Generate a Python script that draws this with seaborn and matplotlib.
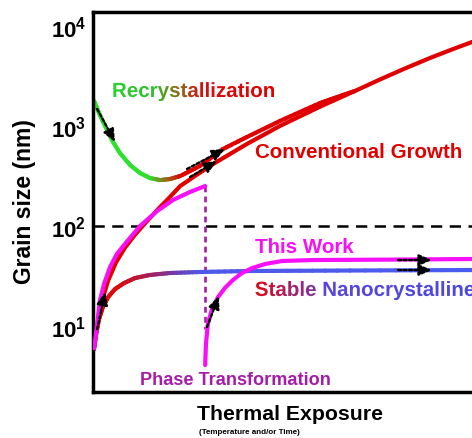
"""
Grain size vs. thermal exposure schematic (log scale).
Curves read off the reference picture, drawn with seaborn / matplotlib.
"""

import numpy as np
import matplotlib
matplotlib.use('Agg')
import matplotlib.pyplot as plt
import matplotlib.transforms as mtransforms
from matplotlib.collections import LineCollection
from matplotlib.colors import LinearSegmentedColormap
from matplotlib.font_manager import FontProperties
from matplotlib.patches import PathPatch
from matplotlib.textpath import TextPath
from matplotlib.ticker import NullLocator
import seaborn as sns

# x: thermal exposure (arbitrary units 0-100), y: grain size (nm)
recryst_x = [0.3, 1.8, 3.7, 5.3, 7.1, 9.8, 12.4, 15.0, 17.7, 20.3, 23.0, 28.2, 34.3, 40.6, 49.3, 59.9, 65.2, 69.1]
recryst_y = [1780, 1290, 912, 692, 537, 407, 339, 302, 288, 295, 316, 398, 589, 776, 1122, 1698, 1995, 2239]

conv_x = [0.3, 1.3, 2.4, 4.0, 6.1, 8.4, 11.1, 13.7, 17.2, 20.3, 23.0, 26.9, 31.7, 40.6, 49.3, 59.9,
		  69.1, 75.7, 82.3, 88.9, 94.7, 100]
conv_y = [6.0, 11.0, 18.0, 28.5, 43.5, 60.5, 82, 106, 148, 195, 251, 316, 417, 661, 1000, 1560,
		  2239, 2917, 3758, 4786, 5821, 6918]

stable_x = [0.2, 0.8, 1.6, 2.6, 4.0, 5.8, 8.2, 11.1, 15.0, 20.3, 28.2, 41.4, 67.8, 100]
stable_y = [5.8, 8.3, 11.7, 15.5, 19.5, 23.4, 26.9, 30.2, 32.4, 33.9, 34.7, 35.5, 35.9, 36.3]

work1_x = [0.3, 1.1, 1.8, 2.9, 4.5, 6.3, 8.4, 12.4, 16.9, 21.1, 25.6, 29.6]
work1_y = [6.0, 10.5, 17.8, 26.3, 38.9, 52.5, 66, 100, 141, 182, 219, 251]

work2_x = [29.6, 29.8, 30.3, 31.4, 33.0, 34.8, 36.9, 39.3, 42.0, 45.4, 49.9, 58.0, 81.0, 100]
work2_y = [4.07, 6.6, 10.5, 14.8, 19.5, 24.0, 28.8, 33.9, 38.0, 41.7, 44.7, 45.7, 46.2, 46.8]

phase_bottom = 9.3
threshold = 100

# dotted arrows: (x0, y0, x1, y1)
arrows = [(1.1, 1479, 5.8, 692),
          (24.8, 372, 34.8, 589),
          (25.6, 309, 32.7, 447),
          (1.1, 9.3, 3.2, 21.9),
          (30.1, 9.8, 33.2, 20.0),
          (80.5, 45.7, 89.4, 45.7),
          (80.5, 36.3, 89.4, 36.3)]

ytick_vals = [10, 100, 1000, 10000]
ytick_labels = [r'$\mathbf{10^{1}}$', r'$\mathbf{10^{2}}$', r'$\mathbf{10^{3}}$', r'$\mathbf{10^{4}}$']

RED = '#e00000'
MAGENTA = '#f70ff7'
PURPLE = '#a41ca8'

recryst_stops = [(0, '#2fe02f'), (0.15, '#2fe02f'), (0.195, '#9a6a18'), (0.235, RED), (1, RED)]
stable_stops = [(0, '#e00808'), (0.07, '#dc0a10'), (0.13, '#b81840'), (0.18, '#922a78'),
                (0.23, '#6a40b8'), (0.29, '#5058e8'), (1, '#4a5cf0')]
recryst_text_stops = [(0, '#2fd02f'), (0.25, '#30c030'), (0.40, '#8a7018'), (0.55, '#d41010'), (1, RED)]
stable_text_stops = [(0, '#dc0a1a'), (0.06, '#cc1030'), (0.28, '#7a35a6'), (0.31, '#5a45dc'), (1, '#4a48e0')]


def gradient_line(ax, xs, ys, stops, lw):
	cmap = LinearSegmentedColormap.from_list('grad', stops)
	segs, cols = [], []
	for xa, ya, xb, yb in zip(xs[:-1], ys[:-1], xs[1:], ys[1:]):
		# short pieces along each straight segment so the colour fades smoothly
		t = np.linspace(0, 1, 9)
		px = xa + (xb - xa) * t
		py = 10 ** (np.log10(ya) + (np.log10(yb) - np.log10(ya)) * t)
		for i in range(len(t) - 1):
			segs.append([(px[i], py[i]), (px[i + 1], py[i + 1])])
			cols.append(cmap((px[i] + px[i + 1]) / 200))
	lc = LineCollection(segs, colors=cols, linewidths=lw, capstyle='round', joinstyle='round')
	ax.add_collection(lc)


def gradient_text(ax, x, y, s, stops, size):
	fp = FontProperties(family='Liberation Sans', weight='bold')
	tp = TextPath((0, 0), s, size=size, prop=fp)
	bb = tp.get_extents()
	tr = mtransforms.Affine2D().scale(ax.figure.dpi / 72) + mtransforms.ScaledTranslation(x, y, ax.transData)
	patch = PathPatch(tp, transform=tr, facecolor='none', edgecolor='none')
	ax.add_patch(patch)
	cmap = LinearSegmentedColormap.from_list('tgrad', stops)
	im = ax.imshow(np.linspace(0, 1, 256)[None, :], cmap=cmap, extent=(bb.x0, bb.x1, bb.y0, bb.y1),
				   transform=tr, aspect='auto', interpolation='bilinear')
	im.set_clip_path(patch)


if __name__ == "__main__":

	sns.set_style('white')
	plt.rcParams['font.family'] = ['Liberation Sans', 'DejaVu Sans']
	plt.rcParams['font.weight'] = 'bold'
	plt.rcParams['mathtext.fontset'] = 'custom'
	plt.rcParams['mathtext.bf'] = 'Liberation Sans:bold'
	plt.rcParams['mathtext.rm'] = 'Liberation Sans:bold'
	#seaborn greys the text, the original is black
	for key in ['text.color', 'axes.labelcolor', 'xtick.color', 'ytick.color']:
		plt.rcParams[key] = 'black'

	fig = plt.figure(figsize=(4.72, 4.39), dpi=100)
	ax = fig.add_axes([93 / 472, 1 - 393 / 439, 1 - 93 / 472, 380 / 439])
	ax.set_yscale('log')
	ax.set_xlim(0, 100)
	ax.set_ylim(2.19, 13800)

	ax.axhline(threshold, color='black', lw=1.8, ls=(0, (4.5, 3)), zorder=1)
	ax.plot([work1_x[-1], work1_x[-1]], [work1_y[-1], phase_bottom], color=PURPLE, lw=1.9,
			ls=(0, (2.2, 1.6)), zorder=1)

	sns.lineplot(x=conv_x, y=conv_y, color=RED, lw=3, sort=False, estimator=None, ax=ax, zorder=2)
	gradient_line(ax, recryst_x, recryst_y, recryst_stops, 3)
	gradient_line(ax, stable_x, stable_y, stable_stops, 3)
	sns.lineplot(x=work1_x, y=work1_y, color=MAGENTA, lw=3, sort=False, estimator=None, ax=ax, zorder=3)
	sns.lineplot(x=work2_x, y=work2_y, color=MAGENTA, lw=3, sort=False, estimator=None, ax=ax, zorder=3)

	for x0, y0, x1, y1 in arrows:
		ax.annotate('', xy=(x1, y1), xytext=(x0, y0),
					arrowprops=dict(arrowstyle='-|>,head_length=0.75,head_width=0.33', color='black',
									lw=1.7, ls=(0, (1.3, 1.0)), shrinkA=0, shrinkB=0, mutation_scale=10),
					zorder=5)

	#labels on the curves:
	gradient_text(ax, 5.0, 1950, 'Recrystallization', recryst_text_stops, 14.8)
	gradient_text(ax, 42.7, 20.0, 'Stable Nanocrystalline', stable_text_stops, 14.8)
	ax.text(42.7, 490, 'Conventional Growth', color=RED, fontsize=14.8, fontweight='bold', va='baseline')
	ax.text(42.7, 55, 'This Work', color=MAGENTA, fontsize=14.8, fontweight='bold', va='baseline')
	ax.text(12.4, 2.63, 'Phase Transformation', color=PURPLE, fontsize=13.1, fontweight='bold', va='baseline')

	ax.set_xticks([])
	ax.set_yticks(ytick_vals, labels=ytick_labels)
	ax.yaxis.set_minor_locator(NullLocator())
	ax.tick_params(axis='y', length=0, pad=5, labelsize=16, labelcolor='black')

	ax.set_xlabel('Thermal Exposure', fontsize=15.3, fontweight='bold', color='black')
	ax.xaxis.set_label_coords(0.52, -0.071)
	ax.xaxis.label.set_va('baseline')
	ax.text(0.28, -0.108, '(Temperature and/or Time)', transform=ax.transAxes, fontsize=5.8,
			fontweight='bold', va='baseline', ha='left', color='black')

	ax.set_ylabel('Grain size (nm)', fontsize=16.5, fontweight='bold', color='black')
	ax.yaxis.set_label_coords(-0.182, 0.505)
	ax.yaxis.label.set_va('center')

	for side in ['left', 'top', 'bottom']:
		ax.spines[side].set_color('black')
		ax.spines[side].set_linewidth(2.5)
	ax.spines['right'].set_visible(False)

	ax.set_xlim(0, 100)
	ax.set_ylim(2.19, 13800)
	fig.savefig('out.png', dpi=100)
